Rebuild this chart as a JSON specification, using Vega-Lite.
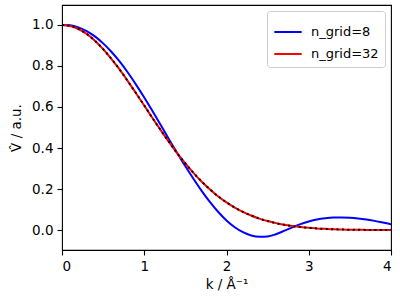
{
  "$schema": "https://vega.github.io/schema/vega-lite/v6.json",
  "autosize": "none",
  "width": 329,
  "height": 245,
  "padding": {"left": 62, "top": 5, "right": 9, "bottom": 50},
  "background": "white",
  "datasets": {
    "grid": [
      {"k": 0.0, "V": 1.000, "n": "8"}, {"k": 0.1, "V": 0.998, "n": "8"}, {"k": 0.2, "V": 0.988, "n": "8"},
      {"k": 0.3, "V": 0.970, "n": "8"}, {"k": 0.4, "V": 0.944, "n": "8"}, {"k": 0.5, "V": 0.910, "n": "8"},
      {"k": 0.6, "V": 0.869, "n": "8"}, {"k": 0.7, "V": 0.822, "n": "8"}, {"k": 0.8, "V": 0.768, "n": "8"},
      {"k": 0.9, "V": 0.709, "n": "8"}, {"k": 1.0, "V": 0.646, "n": "8"}, {"k": 1.1, "V": 0.580, "n": "8"},
      {"k": 1.2, "V": 0.512, "n": "8"}, {"k": 1.3, "V": 0.443, "n": "8"}, {"k": 1.4, "V": 0.376, "n": "8"},
      {"k": 1.5, "V": 0.311, "n": "8"}, {"k": 1.6, "V": 0.249, "n": "8"}, {"k": 1.7, "V": 0.190, "n": "8"},
      {"k": 1.8, "V": 0.136, "n": "8"}, {"k": 1.9, "V": 0.088, "n": "8"}, {"k": 2.0, "V": 0.047, "n": "8"},
      {"k": 2.1, "V": 0.014, "n": "8"}, {"k": 2.2, "V": -0.010, "n": "8"}, {"k": 2.3, "V": -0.026, "n": "8"},
      {"k": 2.4, "V": -0.033, "n": "8"}, {"k": 2.5, "V": -0.031, "n": "8"}, {"k": 2.6, "V": -0.020, "n": "8"},
      {"k": 2.7, "V": -0.004, "n": "8"}, {"k": 2.8, "V": 0.013, "n": "8"}, {"k": 2.9, "V": 0.029, "n": "8"},
      {"k": 3.0, "V": 0.042, "n": "8"}, {"k": 3.1, "V": 0.052, "n": "8"}, {"k": 3.2, "V": 0.058, "n": "8"},
      {"k": 3.3, "V": 0.061, "n": "8"}, {"k": 3.4, "V": 0.061, "n": "8"}, {"k": 3.5, "V": 0.060, "n": "8"},
      {"k": 3.6, "V": 0.057, "n": "8"}, {"k": 3.7, "V": 0.052, "n": "8"}, {"k": 3.8, "V": 0.045, "n": "8"},
      {"k": 3.9, "V": 0.037, "n": "8"}, {"k": 4.0, "V": 0.029, "n": "8"},

      {"k": 0.0, "V": 1.000, "n": "32"}, {"k": 0.1, "V": 0.995, "n": "32"}, {"k": 0.2, "V": 0.980, "n": "32"},
      {"k": 0.3, "V": 0.956, "n": "32"}, {"k": 0.4, "V": 0.923, "n": "32"}, {"k": 0.5, "V": 0.882, "n": "32"},
      {"k": 0.6, "V": 0.835, "n": "32"}, {"k": 0.7, "V": 0.783, "n": "32"}, {"k": 0.8, "V": 0.726, "n": "32"},
      {"k": 0.9, "V": 0.667, "n": "32"}, {"k": 1.0, "V": 0.607, "n": "32"}, {"k": 1.1, "V": 0.546, "n": "32"},
      {"k": 1.2, "V": 0.487, "n": "32"}, {"k": 1.3, "V": 0.430, "n": "32"}, {"k": 1.4, "V": 0.375, "n": "32"},
      {"k": 1.5, "V": 0.325, "n": "32"}, {"k": 1.6, "V": 0.278, "n": "32"}, {"k": 1.7, "V": 0.236, "n": "32"},
      {"k": 1.8, "V": 0.198, "n": "32"}, {"k": 1.9, "V": 0.164, "n": "32"}, {"k": 2.0, "V": 0.135, "n": "32"},
      {"k": 2.1, "V": 0.110, "n": "32"}, {"k": 2.2, "V": 0.089, "n": "32"}, {"k": 2.3, "V": 0.071, "n": "32"},
      {"k": 2.4, "V": 0.056, "n": "32"}, {"k": 2.5, "V": 0.044, "n": "32"}, {"k": 2.6, "V": 0.034, "n": "32"},
      {"k": 2.7, "V": 0.026, "n": "32"}, {"k": 2.8, "V": 0.020, "n": "32"}, {"k": 2.9, "V": 0.015, "n": "32"},
      {"k": 3.0, "V": 0.011, "n": "32"}, {"k": 3.1, "V": 0.008, "n": "32"}, {"k": 3.2, "V": 0.006, "n": "32"},
      {"k": 3.3, "V": 0.004, "n": "32"}, {"k": 3.4, "V": 0.003, "n": "32"}, {"k": 3.5, "V": 0.002, "n": "32"},
      {"k": 3.6, "V": 0.0015, "n": "32"}, {"k": 3.7, "V": 0.001, "n": "32"}, {"k": 3.8, "V": 0.0007, "n": "32"},
      {"k": 3.9, "V": 0.0005, "n": "32"}, {"k": 4.0, "V": 0.0003, "n": "32"}
    ],
    "exact": [
      {"k": 0.0, "V": 1.000}, {"k": 0.1, "V": 0.995}, {"k": 0.2, "V": 0.980}, {"k": 0.3, "V": 0.956},
      {"k": 0.4, "V": 0.923}, {"k": 0.5, "V": 0.882}, {"k": 0.6, "V": 0.835}, {"k": 0.7, "V": 0.783},
      {"k": 0.8, "V": 0.726}, {"k": 0.9, "V": 0.667}, {"k": 1.0, "V": 0.607}, {"k": 1.1, "V": 0.546},
      {"k": 1.2, "V": 0.487}, {"k": 1.3, "V": 0.430}, {"k": 1.4, "V": 0.375}, {"k": 1.5, "V": 0.325},
      {"k": 1.6, "V": 0.278}, {"k": 1.7, "V": 0.236}, {"k": 1.8, "V": 0.198}, {"k": 1.9, "V": 0.164},
      {"k": 2.0, "V": 0.135}, {"k": 2.1, "V": 0.110}, {"k": 2.2, "V": 0.089}, {"k": 2.3, "V": 0.071},
      {"k": 2.4, "V": 0.056}, {"k": 2.5, "V": 0.044}, {"k": 2.6, "V": 0.034}, {"k": 2.7, "V": 0.026},
      {"k": 2.8, "V": 0.020}, {"k": 2.9, "V": 0.015}, {"k": 3.0, "V": 0.011}, {"k": 3.1, "V": 0.008},
      {"k": 3.2, "V": 0.006}, {"k": 3.3, "V": 0.004}, {"k": 3.4, "V": 0.003}, {"k": 3.5, "V": 0.002},
      {"k": 3.6, "V": 0.0015}, {"k": 3.7, "V": 0.001}, {"k": 3.8, "V": 0.0007}, {"k": 3.9, "V": 0.0005},
      {"k": 4.0, "V": 0.0003}
    ]
  },
  "encoding": {
    "x": {
      "field": "k", "type": "quantitative",
      "scale": {"domain": [0, 4], "nice": false, "zero": false},
      "axis": {"values": [0, 1, 2, 3, 4], "format": "d", "title": "k / Å⁻¹"}
    },
    "y": {
      "field": "V", "type": "quantitative",
      "scale": {"domain": [-0.097, 1.097], "nice": false, "zero": false},
      "axis": {"values": [0, 0.2, 0.4, 0.6, 0.8, 1.0], "format": ".1f", "title": "V̂ / a.u."}
    }
  },
  "layer": [
    {
      "data": {"name": "grid"},
      "mark": {"type": "line", "strokeWidth": 2, "interpolate": "monotone", "clip": true},
      "encoding": {
        "color": {
          "field": "n", "type": "nominal",
          "scale": {"domain": ["8", "32"], "range": ["#0000ff", "#ff0000"]},
          "legend": {"title": null, "labelExpr": "'n_grid=' + datum.label"}
        }
      }
    },
    {
      "data": {"name": "exact"},
      "mark": {"type": "line", "color": "black", "strokeWidth": 2, "strokeDash": [2, 3.4], "interpolate": "monotone", "clip": true},
      "encoding": {}
    }
  ],
  "config": {
    "font": "DejaVu Sans",
    "view": {"stroke": "black", "strokeWidth": 1.1},
    "axis": {
      "grid": false,
      "domain": false,
      "tickColor": "black",
      "tickSize": 5,
      "tickWidth": 1.1,
      "labelColor": "black",
      "labelFont": "DejaVu Sans",
      "labelFontSize": 13.5,
      "labelPadding": 4,
      "titleFont": "DejaVu Sans",
      "titleFontSize": 13.5,
      "titleFontWeight": "normal",
      "titleColor": "black"
    },
    "axisX": {"titlePadding": 5},
    "axisY": {"titlePadding": 8},
    "legend": {
      "orient": "top-right",
      "offset": 6,
      "strokeColor": "#cccccc",
      "fillColor": "white",
      "cornerRadius": 3,
      "padding": 6,
      "labelFont": "DejaVu Sans",
      "labelFontSize": 13,
      "labelColor": "black",
      "labelOffset": 8,
      "symbolType": "stroke",
      "symbolStrokeWidth": 2,
      "symbolSize": 750,
      "rowPadding": -3
    }
  }
}
